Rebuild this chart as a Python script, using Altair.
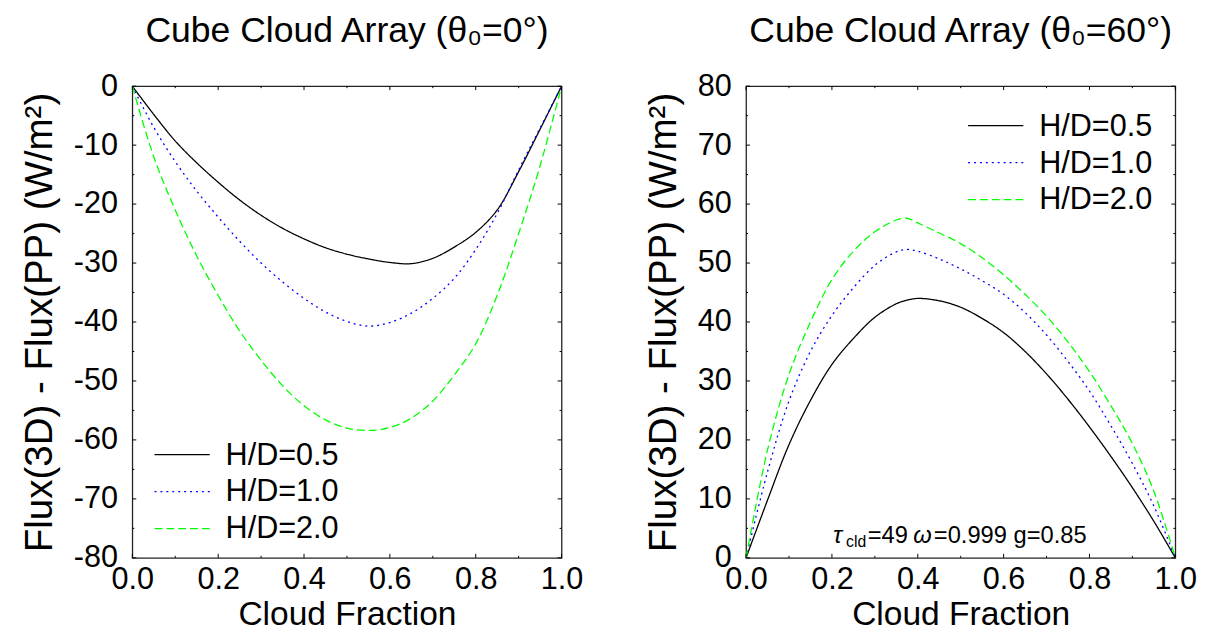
import altair as alt
import pandas as pd

FONT = "Liberation Sans"

series_names = ["H/D=0.5", "H/D=1.0", "H/D=2.0"]
series_colors = ["#000000", "#0000ff", "#00ff00"]
series_dashes = [[1, 0], [2, 4], [8, 4]]

# ---- left panel (theta0 = 0) ----
cf_left = [0.0, 0.05, 0.1, 0.15, 0.2, 0.25, 0.3, 0.35, 0.4, 0.45, 0.5,
           0.55, 0.6, 0.65, 0.7, 0.75, 0.8, 0.85, 0.9, 0.95, 1.0]
left_hd05 = [0, -4.8, -9.3, -13.0, -16.3, -19.3, -21.9, -24.1, -25.9, -27.4, -28.5,
             -29.3, -29.9, -30.1, -29.2, -27.3, -24.8, -21.0, -14.5, -7.3, 0]
left_hd10 = [0, -7.0, -12.8, -17.8, -22.2, -26.3, -30.0, -33.2, -36.0, -38.3, -39.9,
             -40.7, -40.1, -38.5, -36.0, -32.6, -27.7, -21.6, -14.2, -7.1, 0]
left_hd20 = [0, -12.0, -21.0, -28.8, -35.5, -41.5, -46.5, -50.8, -54.2, -56.6, -58.0,
             -58.4, -57.9, -56.3, -53.4, -49.0, -43.7, -35.5, -25.0, -13.5, 0]

# ---- right panel (theta0 = 60) ----
cf_right = [0.0, 0.05, 0.1, 0.15, 0.2, 0.25, 0.3, 0.35, 0.375, 0.4, 0.45, 0.5,
            0.55, 0.6, 0.65, 0.7, 0.75, 0.8, 0.85, 0.9, 0.95, 1.0]
right_hd05 = [0, 9.8, 19.2, 26.7, 32.8, 37.2, 40.8, 43.1, 43.7, 44.0, 43.6, 42.5,
              40.6, 38.2, 35.0, 31.2, 26.9, 22.2, 17.2, 11.9, 6.2, 0]
right_hd10 = [0, 14.6, 26.6, 35.0, 41.1, 45.8, 49.6, 51.9, 52.3, 52.0, 50.7, 49.0,
              47.0, 44.7, 41.6, 37.8, 33.3, 28.3, 22.4, 16.0, 8.8, 0]
right_hd20 = [0, 18.3, 31.1, 40.0, 47.2, 52.0, 55.3, 57.3, 57.6, 56.8, 55.1, 53.3,
              50.9, 48.0, 44.7, 41.0, 36.6, 31.6, 25.8, 19.4, 11.3, 0]

x_major = [0.0, 0.2, 0.4, 0.6, 0.8, 1.0]
x_minor = [0.1, 0.3, 0.5, 0.7, 0.9]
left_y_major = [0, -10, -20, -30, -40, -50, -60, -70, -80]
left_y_minor = [-5, -15, -25, -35, -45, -55, -65, -75]
right_y_major = [0, 10, 20, 30, 40, 50, 60, 70, 80]
right_y_minor = [5, 15, 25, 35, 45, 55, 65, 75]

titles = ["Cube Cloud Array (θ₀=0°)", "Cube Cloud Array (θ₀=60°)"]
x_title = "Cloud Fraction"
y_title = "Flux(3D) - Flux(PP) (W/m²)"

ann_pieces = ["τ", "cld", "=49", "ω", "=0.999 g=0.85"]
ann_pos = {"cf": [0.203], "v": [2.5]}

W, H = 435, 478
MAJ, MIN = 4, 2


def make_panel(cf, vals, ydom, ymaj, ymin_, title_text, leg_x, leg_y0, leg_step, annotate=False):
    rows = []
    for name, arr in zip(series_names, vals):
        for c, v in zip(cf, arr):
            rows.append({"cf": c, "v": v, "series": name})
    df = pd.DataFrame(rows)

    X = alt.X("cf:Q", scale=alt.Scale(domain=[0, 1], nice=False, zero=False),
              axis=alt.Axis(values=x_major, format=".1f", title=x_title))
    Y = alt.Y("v:Q", scale=alt.Scale(domain=ydom, nice=False, zero=False),
              axis=alt.Axis(values=ymaj, labelExpr="'' + datum.value", title=y_title))
    color = alt.Color("series:N", scale=alt.Scale(domain=series_names, range=series_colors), legend=None)
    dash = alt.StrokeDash("series:N", scale=alt.Scale(domain=series_names, range=series_dashes), legend=None)

    layers = []
    layers.append(alt.Chart(df).mark_line(strokeWidth=1.3, interpolate="catmull-rom").encode(
        x=X, y=Y, color=color, strokeDash=dash, order=alt.Order("cf:Q")))

    def xt(vals_, L):
        d = pd.DataFrame({"cf": vals_})
        return [
            alt.Chart(d).mark_rule(color="black", strokeWidth=1).encode(x=X, y=alt.value(0), y2=alt.value(L)),
            alt.Chart(d).mark_rule(color="black", strokeWidth=1).encode(x=X, y=alt.value(H), y2=alt.value(H - L)),
        ]

    def yt(vals_, L):
        d = pd.DataFrame({"v": vals_})
        return [
            alt.Chart(d).mark_rule(color="black", strokeWidth=1).encode(y=Y, x=alt.value(0), x2=alt.value(L)),
            alt.Chart(d).mark_rule(color="black", strokeWidth=1).encode(y=Y, x=alt.value(W), x2=alt.value(W - L)),
        ]

    layers += xt(x_major, MAJ) + xt(x_minor, MIN) + yt(ymaj, MAJ) + yt(ymin_, MIN)

    leg_df = pd.DataFrame({"series": series_names, "idx": [0, 1, 2]})
    leg = alt.Chart(leg_df).transform_calculate(v=f"{leg_y0} + datum.idx * {leg_step}")
    layers.append(leg.mark_rule(strokeWidth=1.3).encode(
        x=alt.value(leg_x), x2=alt.value(leg_x + 56), y=Y, color=color, strokeDash=dash))
    layers.append(leg.mark_text(align="left", baseline="middle", fontSize=31, font=FONT, dy=1).encode(
        x=alt.value(leg_x + 72), y=Y, text="series:N"))

    if annotate:
        ad = pd.DataFrame(ann_pos)
        specs = [
            (ann_pieces[0], 0, 0, 24, "italic"),
            (ann_pieces[1], 13, 4, 16, "normal"),
            (ann_pieces[2], 35, 0, 24, "normal"),
            (ann_pieces[3], 81, 0, 24, "italic"),
            (ann_pieces[4], 102, 0, 24, "normal"),
        ]
        for txt, dx, dy, fs, st in specs:
            layers.append(alt.Chart(ad).mark_text(text=txt, align="left", baseline="alphabetic",
                                                  dx=dx, dy=dy, fontSize=fs, font=FONT, fontStyle=st,
                                                  color="black").encode(x=X, y=Y))

    return alt.layer(*layers).properties(
        width=W, height=H,
        title=alt.Title(title_text, fontSize=36, font=FONT, fontWeight="normal", color="black", offset=21),
    )


left = make_panel(cf_left, [left_hd05, left_hd10, left_hd20], [-80, 0], left_y_major, left_y_minor,
                  titles[0], 22.5, -62.5, -6.27)
right = make_panel(cf_right, [right_hd05, right_hd10, right_hd20], [0, 80], right_y_major, right_y_minor,
                   titles[1], 225, 73.3, -6.27, annotate=True)

chart = alt.hconcat(left, right, spacing=60).resolve_scale(
    x="independent", y="independent", color="independent", strokeDash="independent"
).properties(
    padding={"left": 12, "top": 0, "right": 0, "bottom": 0}
).configure_view(
    stroke="#222222", strokeWidth=1.3
).configure_axis(
    ticks=False, domain=False, grid=False, labelFlush=False, labelOverlap=False,
    labelFont=FONT, labelFontSize=31, labelColor="black",
    titleFont=FONT, titleFontWeight="normal", titleColor="black",
    labelPadding=15,
).configure_axisX(
    titlePadding=4, labelPadding=7, titleFontSize=34
).configure_axisY(
    titlePadding=14, titleFontSize=39
)

chart.save("out.html", embed_options={"renderer": "svg", "actions": False})
